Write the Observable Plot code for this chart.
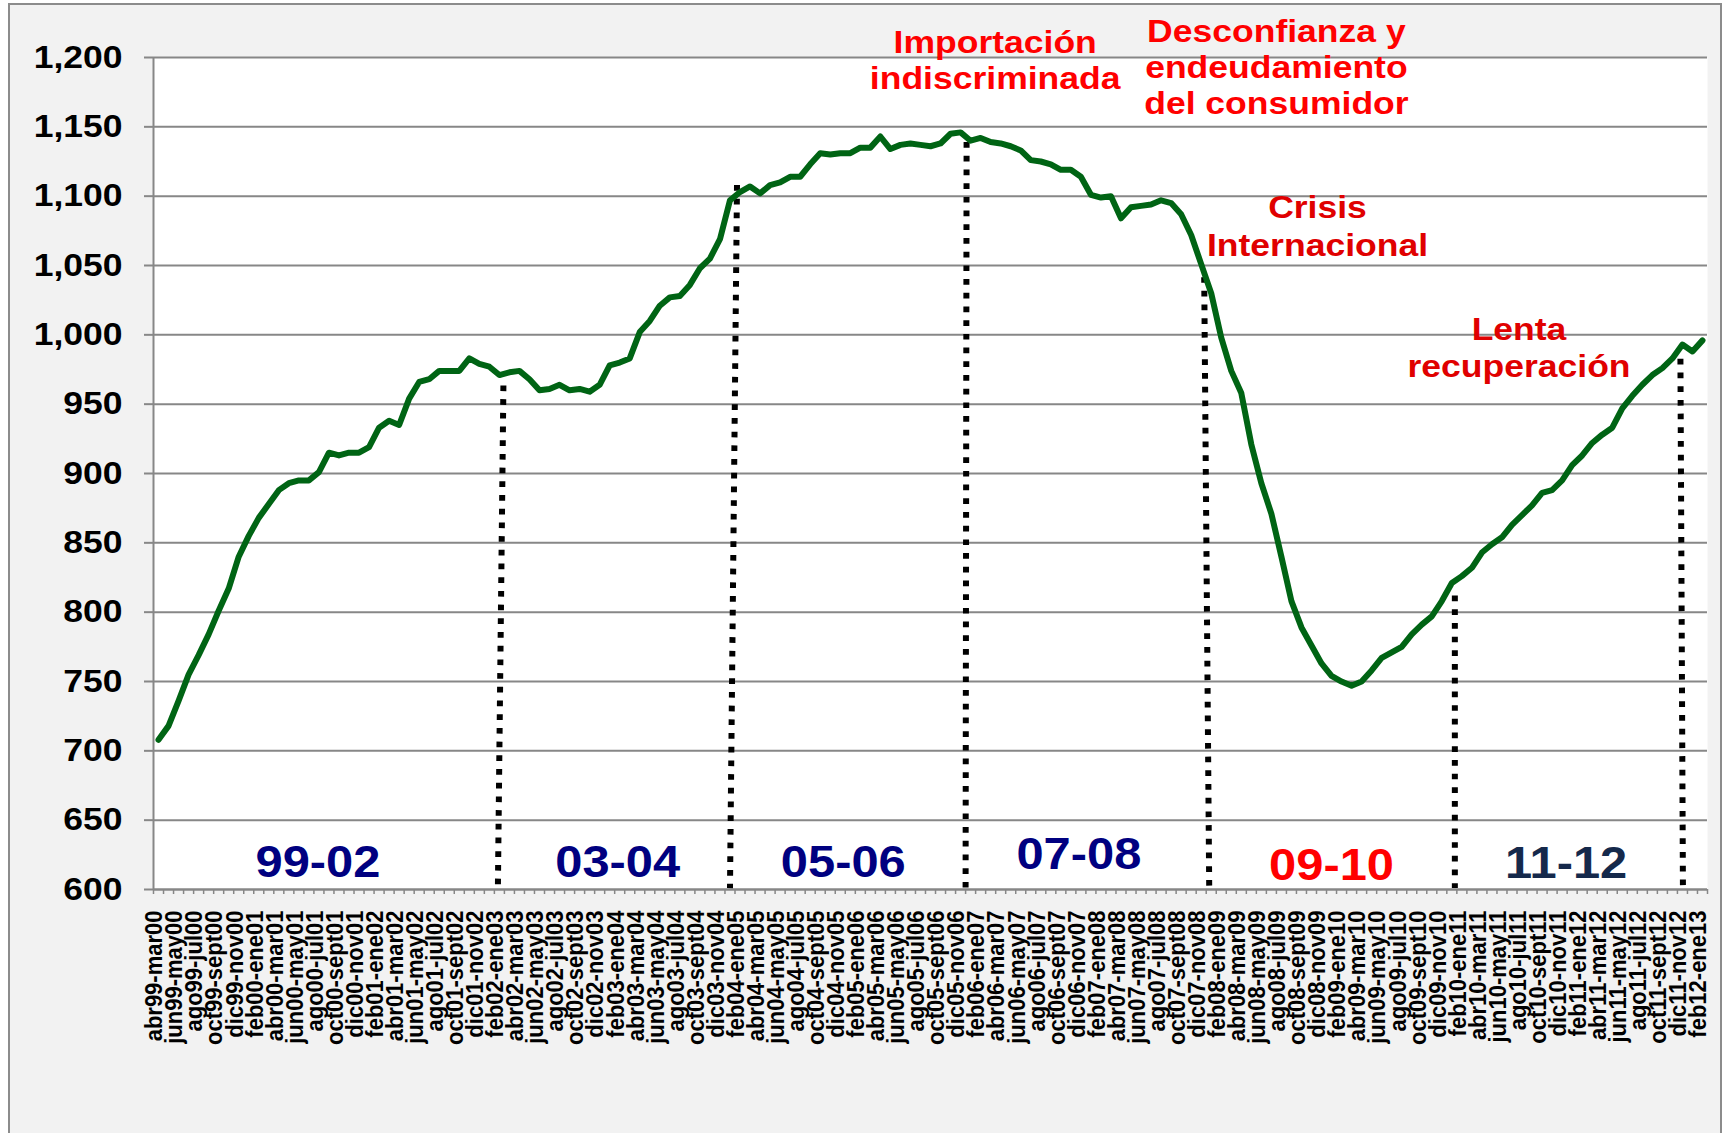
<!DOCTYPE html>
<html>
<head>
<meta charset="utf-8">
<script src="https://cdn.jsdelivr.net/npm/d3@7"></script>
<script src="https://cdn.jsdelivr.net/npm/@observablehq/plot@0.6"></script>
<style>
  html, body { margin: 0; padding: 0; background: #ffffff; overflow: hidden; }
  #wrap { position: relative; width: 1728px; height: 1133px; }
  #panel { position: absolute; left: 8px; top: 3px; width: 1714px; height: 1200px;
           border: 2px solid #8c8c8c; background: #f2f2f2; box-sizing: border-box; }
  #chart { position: absolute; left: 0; top: 0; }
</style>
</head>
<body>
<div id="wrap"><div id="panel"></div><div id="chart"></div></div>
<script>
// Tick labels (every second 12‑month period)
const periodLabels = [
  "abr99-mar00","jun99-may00","ago99-jul00","oct99-sept00","dic99-nov00","feb00-ene01",
  "abr00-mar01","jun00-may01","ago00-jul01","oct00-sept01","dic00-nov01","feb01-ene02",
  "abr01-mar02","jun01-may02","ago01-jul02","oct01-sept02","dic01-nov02","feb02-ene03",
  "abr02-mar03","jun02-may03","ago02-jul03","oct02-sept03","dic02-nov03","feb03-ene04",
  "abr03-mar04","jun03-may04","ago03-jul04","oct03-sept04","dic03-nov04","feb04-ene05",
  "abr04-mar05","jun04-may05","ago04-jul05","oct04-sept05","dic04-nov05","feb05-ene06",
  "abr05-mar06","jun05-may06","ago05-jul06","oct05-sept06","dic05-nov06","feb06-ene07",
  "abr06-mar07","jun06-may07","ago06-jul07","oct06-sept07","dic06-nov07","feb07-ene08",
  "abr07-mar08","jun07-may08","ago07-jul08","oct07-sept08","dic07-nov08","feb08-ene09",
  "abr08-mar09","jun08-may09","ago08-jul09","oct08-sept09","dic08-nov09","feb09-ene10",
  "abr09-mar10","jun09-may10","ago09-jul10","oct09-sept10","dic09-nov10","feb10-ene11",
  "abr10-mar11","jun10-may11","ago10-jul11","oct10-sept11","dic10-nov11","feb11-ene12",
  "abr11-mar12","jun11-may12","ago11-jul12","oct11-sept12","dic11-nov12","feb12-ene13"
];

// Monthly rolling 12-month values (abr99-mar00 ... feb12-ene13)
const values = [
  708,718,736,755,769,784,801,817,840,855,868,878,888,893,895,895,901,915,913,915,
  915,919,933,938,935,954,966,968,974,974,974,983,979,977,971,973,974,968,960,961,
  964,960,961,959,964,978,980,983,1002,1010,1021,1027,1028,1036,1048,1055,1069,1097,1103,1107,
  1102,1108,1110,1114,1114,1123,1131,1130,1131,1131,1135,1135,1143,1134,1137,1138,1137,1136,1138,1145,
  1146,1140,1142,1139,1138,1136,1133,1126,1125,1123,1119,1119,1114,1101,1099,1100,1084,1092,1093,1094,
  1097,1095,1087,1072,1051,1030,998,974,958,921,893,871,840,808,789,776,763,754,750,747,
  750,758,767,771,775,784,791,797,808,821,826,832,843,849,854,863,870,877,886,888,
  895,906,913,922,928,933,947,956,964,971,976,983,993,988,996
];

const yTicks = [600,650,700,750,800,850,900,950,1000,1050,1100,1150,1200];

// Dotted period dividers (category index at top / bottom, value at top / bottom)
const dividerXTop    = [34.4, 57.7, 80.6, 104.3, 129.3, 151.8];
const dividerXBottom = [33.85, 57.0, 80.5, 104.8, 129.3, 152.05];
const dividerTop     = [963.5, 1108, 1139, 1041.6, 812, 982.7];
const dividerBottom  = 601;

// Period labels
const periodNames  = ["99-02","03-04","05-06","07-08","09-10","11-12"];
const periodX      = [15.9, 45.8, 68.3, 91.8, 117.0, 140.4];
const periodY      = [608.7, 608.7, 608.7, 615.1, 607.2, 608.0];
const periodColors = ["#000080","#000080","#000080","#000080","#ff0000","#15294b"];

// Red annotations
const noteTexts  = ["Importación\nindiscriminada", "Desconfianza y\nendeudamiento\ndel consumidor", "Crisis\nInternacional", "Lenta\nrecuperación"];
const noteX      = [83.45, 111.5, 115.6, 135.7];
const noteY      = [1177.6, 1159.6, 1057.2, 969.9];
const noteColors = ["#ff0000", "#ff0000", "#e00000", "#e00000"];
const noteLineH  = [1.1, 1.11, 1.16, 1.13];

// ---- build tables
const series = values.map((v, i) => ({i, v}));
const labelIdx = periodLabels.map((_, k) => 2 * k);
const boundaries = d3.range(0, values.length + 1).map(k => k - 0.5);
const dividers = dividerTop.map((t, k) => ({x1: dividerXTop[k], x2: dividerXBottom[k], y1: t, y2: dividerBottom}));
const periods = periodNames.map((t, k) => ({t, x: periodX[k], y: periodY[k], c: periodColors[k]}));

const FONT = "'Liberation Sans', Arial, Helvetica, sans-serif";
const marks = [
  Plot.frame({fill: "white", stroke: null}),
  Plot.gridY(yTicks, {stroke: "#878787", strokeOpacity: 1, strokeWidth: 2}),
  Plot.axisY(yTicks, {tickSize: 9, tickPadding: 22, tickFormat: d3.format(","), fontSize: 32, fontWeight: "bold",
                      stroke: "#878787", strokeWidth: 2, fill: "black", label: null}),
  Plot.axisX(boundaries, {tickSize: 5, tickFormat: () => "", stroke: "#878787", strokeWidth: 1.5, label: null}),
  Plot.axisX(labelIdx, {tickSize: 0, tickPadding: 21, tickRotate: -90, fontSize: 22, fontWeight: "bold",
                        tickFormat: d => periodLabels[d / 2], fill: "black", label: null}),
  Plot.ruleX([-0.5], {stroke: "#878787", strokeWidth: 2}),
  Plot.ruleY([600], {stroke: "#878787", strokeWidth: 2}),
  Plot.link(dividers, {x1: "x1", y1: "y1", x2: "x2", y2: "y2", stroke: "black", strokeWidth: 6,
                       strokeDasharray: "5.7,8", strokeLinecap: "butt"}),
  Plot.line(series, {x: "i", y: "v", stroke: "#006414", strokeWidth: 6, strokeLinejoin: "round", strokeLinecap: "round"}),
  Plot.text(periods, {x: "x", y: "y", text: "t", fill: "c", fontSize: 44, fontWeight: "bold", textAnchor: "middle", lineAnchor: "bottom"}),
  ...noteTexts.map((t, k) => Plot.text([t], {x: () => noteX[k], y: () => noteY[k], text: d => d, fill: noteColors[k],
        fontSize: 32, fontWeight: "bold", textAnchor: "middle", lineAnchor: "bottom", lineHeight: noteLineH[k]}))
];

const chart = Plot.plot({
  width: 1728, height: 1133,
  marginLeft: 153, marginRight: 21, marginTop: 57, marginBottom: 244,
  x: {type: "linear", domain: [-0.5, values.length - 0.5]},
  y: {domain: [600, 1200]},
  style: {fontFamily: FONT, background: "transparent", overflow: "visible"},
  marks
});

// The original artwork is stretched horizontally (~1.11x); reproduce that on the text.
function stretch(el, pre, post) {
  let tr = el.getAttribute("transform");
  if (!tr) {
    const x = +el.getAttribute("x") || 0, y = +el.getAttribute("y") || 0;
    el.removeAttribute("x"); el.removeAttribute("y");
    tr = `translate(${x},${y})`;
  }
  el.setAttribute("transform", pre + tr + " " + post);
}
chart.querySelectorAll('g[aria-label="y-axis tick label"] text, g[aria-label="text"] text')
  .forEach(el => stretch(el, "", "scale(1.11,1)"));
chart.querySelectorAll('g[aria-label="x-axis tick label"] text')
  .forEach(el => stretch(el, "translate(-4,0) ", "scale(1,1.11)"));

document.getElementById("chart").appendChild(chart);
</script>
</body>
</html>
